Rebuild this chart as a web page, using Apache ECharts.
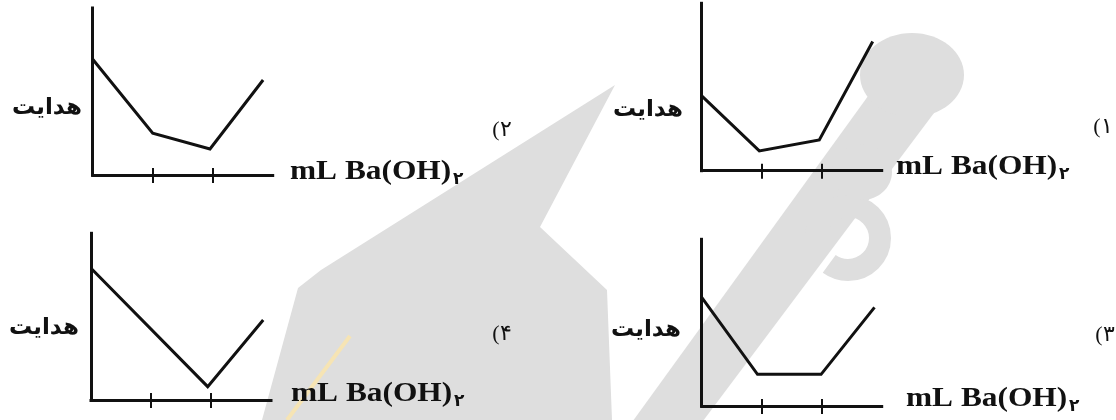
<!DOCTYPE html>
<html>
<head>
<meta charset="utf-8">
<script src="https://cdn.jsdelivr.net/npm/echarts@6/dist/echarts.min.js"></script>
<style>
html,body{margin:0;padding:0;background:#fff;}
#c{width:1116px;height:420px;}
</style>
</head>
<body>
<div id="c"></div>
<script>
// ---- data ----
const panelLabels = ['(۱', '(۲', '(۳', '(۴'];
const yName = 'هدایت';
const xName = 'mL Ba(OH)';
const xNameSub = '۲';
const xTicks = [1, 2];
const chart1X = [0, 0.96, 1.96, 2.85];
const chart1Y = [4.47, 1.18, 1.84, 7.72];
const chart2X = [0, 1.0, 1.955, 2.84];
const chart2Y = [6.93, 2.5, 1.56, 5.69];
const chart3X = [0, 0.93, 1.99, 2.88];
const chart3Y = [6.52, 1.9, 1.9, 5.92];
const chart4X = [0, 1.945, 2.87];
const chart4Y = [7.9, 0.8, 4.8];

const seriesX = [chart1X, chart2X, chart3X, chart4X];
const seriesY = [chart1Y, chart2Y, chart3Y, chart4Y];

// ---- layout ----
const panels = [
  {left: 701.7, top: 3.3, width: 180, height: 167.4, xl: 896, xlY: 167, yl: 683, ylY: 110, pl: 1103, plY: 127},
  {left: 92.7, top: 8, width: 180, height: 167, xl: 290, xlY: 172, yl: 82, ylY: 108, pl: 502, plY: 130},
  {left: 701.7, top: 239.3, width: 180, height: 166.7, xl: 906, xlY: 399, yl: 681, ylY: 330, pl: 1105, plY: 335},
  {left: 91, top: 233.3, width: 180, height: 166.7, xl: 291, xlY: 394, yl: 79, ylY: 328, pl: 502, plY: 334}
];
const ink = '#111';
const wm = '#dedede';

const grid = [], xAxis = [], yAxis = [], series = [], graphic = [];

// watermark (background decoration)
graphic.push({type: 'polygon', z: -10, silent: true,
  shape: {points: [[615,85],[321,270],[298,288],[262,420],[612,420],[607,290],[540,227]]},
  style: {fill: wm}});
graphic.push({type: 'polygon', z: -9, silent: true,
  shape: {points: [[446,300],[560,300],[560,420],[446,420]]},
  style: {fill: '#d9d9d9', opacity: 0}});
graphic.push({type: 'ellipse', z: -9, silent: true,
  shape: {cx: 372, cy: 305, rx: 22, ry: 45}, rotation: -0.6,
  style: {fill: '#d3d3d3'}});
graphic.push({type: 'line', z: -9, silent: true,
  shape: {x1: 350, y1: 336, x2: 287, y2: 420},
  style: {stroke: '#f6e4b4', lineWidth: 4}});
graphic.push({type: 'polygon', z: -10, silent: true,
  shape: {points: [[630,425],[700,425],[955,85],[905,45]]},
  style: {fill: wm}});
graphic.push({type: 'arc', z: -10, silent: true,
  shape: {cx: 848, cy: 238, r: 32, startAngle: -Math.PI, endAngle: 0.7 * Math.PI},
  style: {stroke: wm, lineWidth: 22, fill: null}});
graphic.push({type: 'ellipse', z: -10, silent: true,
  shape: {cx: 912, cy: 75, rx: 52, ry: 42},
  style: {fill: wm}});
graphic.push({type: 'ellipse', z: -10, silent: true,
  shape: {cx: 862, cy: 172, rx: 30, ry: 28},
  style: {fill: wm}});

panels.forEach((p, i) => {
  grid.push({left: p.left, top: p.top, width: p.width, height: p.height, containLabel: false});
  xAxis.push({
    type: 'value', gridIndex: i, min: 0, max: 3, position: 'bottom',
    axisLine: {show: true, onZero: false, lineStyle: {color: ink, width: 3, cap: 'square'}},
    axisTick: {show: true, inside: false, length: 8, customValues: xTicks, lineStyle: {color: ink, width: 2}},
    axisLabel: {show: false}, splitLine: {show: false}
  });
  xAxis.push({
    type: 'value', gridIndex: i, min: 0, max: 3, position: 'bottom', offset: 0,
    axisLine: {show: false},
    axisTick: {show: true, inside: true, length: 7, customValues: xTicks, lineStyle: {color: ink, width: 2}},
    axisLabel: {show: false}, splitLine: {show: false}
  });
  yAxis.push({
    type: 'value', gridIndex: i, min: 0, max: 10,
    axisLine: {show: true, onZero: false, lineStyle: {color: ink, width: 3, cap: 'square'}},
    axisTick: {show: false}, axisLabel: {show: false}, splitLine: {show: false}
  });
  series.push({
    type: 'line', xAxisIndex: 2 * i, yAxisIndex: i,
    data: seriesX[i].map((x, k) => [x, seriesY[i][k]]),
    symbol: 'none', silent: true, animation: false,
    lineStyle: {color: ink, width: 3, join: 'miter'}
  });
  graphic.push({type: 'text', x: p.xl, y: p.xlY, scaleX: 1.12, z: 10,
    style: {text: xName, font: 'bold 28px "Liberation Serif"', fill: ink, textAlign: 'left', textVerticalAlign: 'middle'}});
  graphic.push({type: 'text', x: p.xl + 163, y: p.xlY + 8, z: 10,
    style: {text: xNameSub, font: 'bold 17px "DejaVu Sans"', fill: ink, textAlign: 'left', textVerticalAlign: 'middle'}});
  graphic.push({type: 'text', x: p.yl, y: p.ylY, z: 10,
    style: {text: yName, font: 'bold 23px "DejaVu Sans"', fill: ink, textAlign: 'right', textVerticalAlign: 'middle'}});
  graphic.push({type: 'text', x: p.pl, y: p.plY, z: 10,
    style: {text: panelLabels[i], font: '22px "Liberation Serif"', fill: ink, textAlign: 'center', textVerticalAlign: 'middle'}});
});

const chart = echarts.init(document.getElementById('c'), null, {renderer: 'canvas'});
chart.setOption({animation: false, backgroundColor: '#fff', grid, xAxis, yAxis, series, graphic});
</script>
</body>
</html>
